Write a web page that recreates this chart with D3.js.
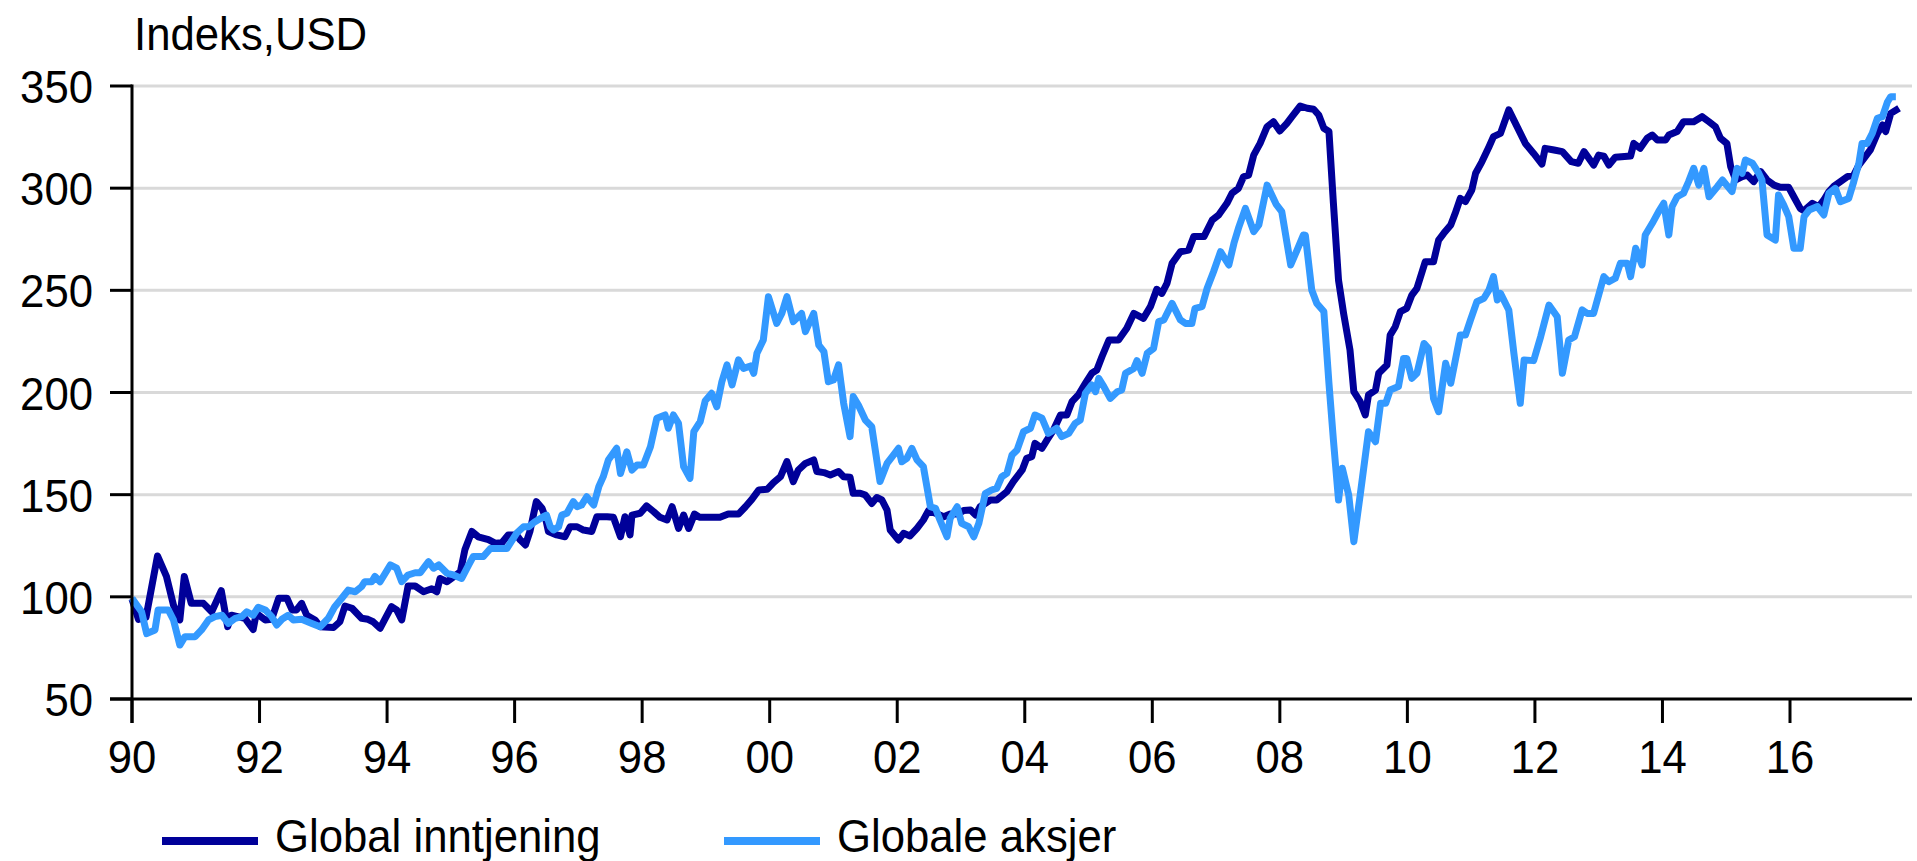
<!DOCTYPE html>
<html>
<head>
<meta charset="utf-8">
<script src="https://cdn.jsdelivr.net/npm/d3@7"></script>
<style>
  html, body { margin: 0; padding: 0; background: #ffffff; }
  svg { display: block; }
  text { font-family: "Liberation Sans", Arial, sans-serif; fill: #000; }
</style>
</head>
<body>
<svg id="chart" width="1917" height="861"></svg>
<script>
// ---------------- DATA ----------------
const yAxisTitle = "Indeks,USD";
const seriesNames = ["Global inntjening", "Globale aksjer"];
const seriesColors = ["#000099", "#3399FF"];

const yTickValues = [50, 100, 150, 200, 250, 300, 350];
const xTickYears = [1990, 1992, 1994, 1996, 1998, 2000, 2002, 2004, 2006, 2008, 2010, 2012, 2014, 2016];
const xTickLabels = ["90", "92", "94", "96", "98", "00", "02", "04", "06", "08", "10", "12", "14", "16"];

// Global inntjening (earnings), time in decimal years
const earningsDates = [
  1990.00,1990.10,1990.22,1990.40,1990.54,1990.65,1990.75,1990.82,1990.93,1991.12,
  1991.25,1991.40,1991.50,1991.56,1991.77,1991.90,1991.95,1992.09,1992.19,1992.30,
  1992.43,1992.51,1992.58,1992.66,1992.74,1992.87,1992.95,1993.16,1993.26,1993.34,
  1993.45,1993.60,1993.70,1993.78,1993.89,1993.96,1994.07,1994.15,1994.23,1994.33,
  1994.44,1994.57,1994.70,1994.78,1994.83,1994.94,1995.01,1995.15,1995.22,1995.33,
  1995.43,1995.59,1995.70,1995.80,1995.90,1996.03,1996.09,1996.17,1996.24,1996.34,
  1996.43,1996.48,1996.53,1996.66,1996.79,1996.87,1996.98,1997.08,1997.21,1997.29,
  1997.45,1997.55,1997.66,1997.73,1997.81,1997.84,1997.97,1998.07,1998.18,1998.28,
  1998.39,1998.47,1998.57,1998.65,1998.73,1998.82,1998.90,1999.01,1999.22,1999.35,
  1999.51,1999.62,1999.72,1999.83,1999.96,2000.06,2000.17,2000.27,2000.37,2000.45,
  2000.56,2000.69,2000.74,2000.85,2000.95,2001.08,2001.16,2001.26,2001.31,2001.42,
  2001.50,2001.60,2001.68,2001.76,2001.84,2001.89,2002.02,2002.10,2002.20,2002.31,
  2002.41,2002.49,2002.60,2002.73,2002.83,2002.94,2003.04,2003.15,2003.23,2003.30,
  2003.46,2003.56,2003.72,2003.82,2003.96,2004.03,2004.11,2004.16,2004.27,2004.35,
  2004.45,2004.56,2004.66,2004.74,2004.84,2004.95,2005.05,2005.13,2005.21,2005.32,
  2005.47,2005.60,2005.71,2005.86,2005.97,2006.07,2006.15,2006.23,2006.31,2006.44,
  2006.57,2006.65,2006.81,2006.94,2007.04,2007.17,2007.25,2007.35,2007.43,2007.51,
  2007.59,2007.69,2007.80,2007.90,2008.00,2008.11,2008.19,2008.32,2008.43,2008.53,
  2008.61,2008.69,2008.77,2008.84,2008.92,2009.00,2009.10,2009.16,2009.26,2009.34,
  2009.39,2009.50,2009.55,2009.68,2009.73,2009.81,2009.89,2009.99,2010.07,2010.15,
  2010.28,2010.41,2010.49,2010.57,2010.68,2010.75,2010.83,2010.91,2011.01,2011.07,
  2011.17,2011.28,2011.35,2011.46,2011.59,2011.72,2011.85,2011.98,2012.11,2012.16,
  2012.30,2012.43,2012.57,2012.68,2012.77,2012.92,2013.00,2013.08,2013.16,2013.26,
  2013.50,2013.55,2013.65,2013.76,2013.84,2013.92,2014.05,2014.10,2014.23,2014.33,
  2014.49,2014.62,2014.73,2014.83,2014.91,2015.01,2015.07,2015.15,2015.25,2015.33,
  2015.43,2015.54,2015.64,2015.75,2015.85,2015.98,2016.06,2016.16,2016.22,2016.35,
  2016.45,2016.53,2016.61,2016.69,2016.79,2016.90,2017.00,2017.08,2017.16,2017.26,
  2017.37,2017.45,2017.50,2017.58,2017.71
];
const earningsValues = [
  99,89,90,120,110,96,88.7,110,96.8,96.8,
  92.7,103,85.4,91,89.5,84,92,88.7,89,99.3,
  99.3,93.6,93.6,96.8,91,88.7,85.4,85,87.8,95.5,
  94.4,89.5,89,87.8,84.6,88.7,95.2,93.6,88.7,105.3,
  105.3,102.5,104,102.5,109,107.4,109,112.3,123,132,
  129.4,128,126.2,126.5,130.3,130.3,127.8,125.4,132,146.6,
  143.3,139.2,132,130.3,129.4,134.3,134.3,132.7,132,139.2,
  139.2,138.9,129.4,139.2,130.3,140,140.9,144.5,141.7,138.9,
  137.6,144.1,133.5,140,133.5,140.5,139,138.9,138.9,140.5,
  140.5,144.1,147.7,152.3,152.6,155.9,158.8,166.2,156.4,162.1,
  165.3,167,161.3,160.8,159.6,161.3,158.8,158.5,150.7,150.7,
  149.8,145.7,148.6,147.4,142.5,132.7,127.8,131.1,129.8,133.5,
  137.6,142.2,140.9,139.2,140.5,140.5,142.2,142.5,140,144.1,
  147.4,147.4,151.5,156.4,162.1,167.8,168.6,175.1,172.7,176.8,
  181.6,189,189,195.5,198.8,204.5,209.4,211,217.5,225.7,
  225.7,231.4,238.7,236.3,242,250.5,248.5,253.4,263.2,268.9,
  269.7,276.3,276.3,284.4,286.9,292.6,297.5,299.9,305.6,306.4,
  316.2,321.9,330.1,332.5,328,331.7,335,340.2,339.1,338.6,
  335.8,329.3,327.7,292.6,255,238.7,220.8,200.4,195.5,189,
  198.8,201.2,209.4,213.5,228.1,232.2,239.6,241.2,247.7,251,
  264,264,274.6,277.9,282,287.7,295,293.4,299.1,307.3,
  313,320.3,325.2,326.8,338.3,330.1,321.9,317,311.8,319.5,
  318.7,317.9,313,312.2,317.9,311.3,316.2,315.7,311.3,315.1,
  315.7,321.9,319.5,324.4,326,323.6,323.6,326,327.7,332.5,
  332.5,335,332.5,330.1,324.4,321.9,310.5,304,305.6,306.4,
  303.2,308.1,304,301.5,300.4,300.4,295.8,290.1,289,292.6,
  291,294.2,298.3,301,303.2,305.6,306.4,311.3,314.6,318.7,
  326.8,330.9,327.7,336.6,339.1
];

// Globale aksjer (equities)
const equityDates = [
  1990.00,1990.15,1990.23,1990.36,1990.41,1990.57,1990.65,1990.75,1990.83,1990.99,
  1991.09,1991.20,1991.30,1991.41,1991.51,1991.62,1991.72,1991.80,1991.90,1991.98,
  1992.09,1992.19,1992.27,1992.35,1992.45,1992.53,1992.66,1992.82,1992.95,1993.08,
  1993.18,1993.29,1993.39,1993.50,1993.60,1993.65,1993.76,1993.81,1993.89,1994.05,
  1994.15,1994.23,1994.33,1994.44,1994.52,1994.65,1994.73,1994.81,1994.94,1995.04,
  1995.17,1995.28,1995.35,1995.51,1995.62,1995.75,1995.88,1995.93,1996.03,1996.14,
  1996.22,1996.32,1996.45,1996.50,1996.56,1996.61,1996.69,1996.74,1996.82,1996.92,
  1996.98,1997.05,1997.13,1997.24,1997.32,1997.39,1997.47,1997.60,1997.66,1997.76,
  1997.84,1997.92,1998.02,1998.13,1998.23,1998.36,1998.41,1998.49,1998.57,1998.65,
  1998.75,1998.81,1998.91,1998.99,1999.09,1999.17,1999.25,1999.33,1999.41,1999.51,
  1999.59,1999.70,1999.75,1999.80,1999.90,1999.98,2000.11,2000.19,2000.27,2000.37,
  2000.50,2000.56,2000.69,2000.77,2000.85,2000.92,2001.00,2001.08,2001.16,2001.26,
  2001.31,2001.39,2001.50,2001.60,2001.73,2001.84,2001.94,2002.02,2002.07,2002.15,
  2002.23,2002.31,2002.41,2002.52,2002.60,2002.67,2002.78,2002.83,2002.94,2003.01,
  2003.12,2003.20,2003.28,2003.38,2003.48,2003.56,2003.64,2003.72,2003.80,2003.88,
  2003.98,2004.09,2004.16,2004.27,2004.37,2004.50,2004.58,2004.69,2004.79,2004.87,
  2004.95,2005.05,2005.11,2005.16,2005.24,2005.34,2005.45,2005.52,2005.58,2005.71,
  2005.76,2005.84,2005.92,2006.02,2006.10,2006.18,2006.31,2006.44,2006.52,2006.62,
  2006.67,2006.78,2006.86,2006.96,2007.07,2007.20,2007.28,2007.35,2007.46,2007.59,
  2007.67,2007.80,2007.94,2008.03,2008.17,2008.27,2008.37,2008.40,2008.50,2008.58,
  2008.69,2008.77,2008.84,2008.92,2008.98,2009.08,2009.16,2009.26,2009.39,2009.50,
  2009.58,2009.66,2009.73,2009.86,2009.94,2009.99,2010.07,2010.15,2010.26,2010.33,
  2010.41,2010.49,2010.60,2010.68,2010.83,2010.91,2010.99,2011.09,2011.20,2011.28,
  2011.35,2011.41,2011.46,2011.59,2011.67,2011.77,2011.83,2011.98,2012.09,2012.22,
  2012.35,2012.43,2012.53,2012.62,2012.74,2012.82,2012.92,2013.08,2013.16,2013.26,
  2013.34,2013.45,2013.50,2013.58,2013.68,2013.73,2013.84,2013.94,2014.02,2014.10,
  2014.15,2014.23,2014.33,2014.41,2014.49,2014.57,2014.65,2014.73,2014.86,2014.94,
  2015.09,2015.17,2015.25,2015.30,2015.41,2015.51,2015.56,2015.64,2015.77,2015.82,
  2015.90,2015.98,2016.06,2016.16,2016.22,2016.30,2016.43,2016.53,2016.61,2016.71,
  2016.79,2016.92,2017.00,2017.08,2017.13,2017.21,2017.29,2017.37,2017.45,2017.53,
  2017.58,2017.66
];
const equityValues = [
  99.3,92.7,82,83.8,93.6,93.6,88.7,76.4,80.5,80.5,
  83.8,88.7,90.3,91,87,89.5,90.3,92.7,91,94.9,
  93.6,90.3,86.2,89,91,88.7,89,87,85.4,89.5,
  95.2,99.3,103.3,102.5,105,107.4,107.4,110,107.4,115.6,
  114,107.4,110.7,111.8,111.8,117.2,114,115.6,111.5,110.7,
  109,115.6,119.7,119.7,123.7,123.7,123.7,126.2,131.1,134.3,
  134.3,136.8,139.2,140,134.3,132.7,134.3,140,140.9,146.6,
  144.1,144.9,149,144.9,153.9,158.8,167,172.7,160.4,171,
  162,164.5,164.5,173.5,187.4,189,182.5,189,184.9,163.7,
  158,180.8,185.7,196,199.6,193,205.3,213.5,203.7,216,
  211.8,213,209.4,219.2,225.7,246.9,233.8,238.7,246.9,234.7,
  238.7,229.8,238.7,223.2,220,205.3,206.1,213.5,194.7,178.4,
  198,193.9,186.5,183.3,156.4,165.3,169.4,172.7,166.1,167.8,
  172.7,167,163.7,144.1,143.3,137.6,129.4,138.4,144.1,136,
  134.3,129.4,136,150.5,152.3,153.1,158.8,160.4,169.4,171.9,
  180.8,182.5,189,187.4,180,182.5,178.4,180,184.9,186.5,
  199.6,203.7,200.4,206.9,202.9,197.1,200.4,201.2,209.4,211.8,
  215.6,209.4,219.2,221.6,234.7,235.5,243.6,235.5,233.8,233.8,
  241.2,242,251,259.1,268.9,262.4,273,280.3,290.1,278.7,
  282,301.5,292.2,288.5,262.4,269.7,277.1,277,250.2,243.6,
  239.6,204.5,176.8,147.4,162.9,149.8,127,149.8,180.8,175.9,
  194.7,194.7,201.2,202.9,216.7,216.7,206.9,209.4,224,221.6,
  197.1,190.6,214.3,204.5,228.1,228.1,235.5,244.5,246.1,250.2,
  256.7,245.3,248.5,240.4,219.2,194.7,215.9,215.6,227.3,242.8,
  237.1,209.4,225.7,227.3,240.4,238.7,238.7,256.7,254.2,255.9,
  263.2,263.2,256.7,270.6,262.4,277.1,282.8,288.5,292.6,277.1,
  290.9,295.8,297.5,303.2,309.7,301.5,309.7,295.8,300.7,304,
  298.3,309.7,307.3,313.8,312.2,307.3,304,277.1,274.6,296.6,
  291.8,286.1,270.6,270.6,286.1,289.3,291,286.9,297.5,299.9,
  293.4,295,303.2,312.2,321.9,321.9,326.8,334.2,335,342.3,
  344.8,344.8
];

// ---------------- CHART ----------------
const svg = d3.select("#chart");
const FONT = 47;
const SQUEEZE = 0.93;   // glyphs in the original are slightly condensed

const x = d3.scaleLinear().domain([1990, 2016]).range([132, 1790]);
const y = d3.scaleLinear().domain([50, 350]).range([699, 86]);
const rightEdge = 1912;

function placeText(sel, px, py) {
  sel.attr("transform", (d, i) => {
    const tx = typeof px === "function" ? px(d, i) : px;
    const ty = typeof py === "function" ? py(d, i) : py;
    return `translate(${tx},${ty}) scale(${SQUEEZE},1)`;
  }).attr("font-size", FONT);
}

// gridlines
svg.append("g").selectAll("line")
  .data(yTickValues.filter(v => v !== 50))
  .join("line")
  .attr("x1", x(1990)).attr("x2", rightEdge)
  .attr("y1", d => y(d)).attr("y2", d => y(d))
  .attr("stroke", "#d9d9d9").attr("stroke-width", 3);

// series lines
const earnings = earningsDates.map((t, i) => ({ t, v: earningsValues[i] }));
const equity = equityDates.map((t, i) => ({ t, v: equityValues[i] }));
const line = d3.line().x(d => x(d.t)).y(d => y(d.v));

[earnings, equity].forEach((s, i) => {
  svg.append("path")
    .datum(s)
    .attr("d", line)
    .attr("fill", "none")
    .attr("stroke", seriesColors[i])
    .attr("stroke-width", 7)
    .attr("stroke-linejoin", "round")
    .attr("stroke-linecap", "butt");
});

// axes
const axisG = svg.append("g");
axisG.append("line")
  .attr("x1", 110).attr("x2", rightEdge)
  .attr("y1", y(50)).attr("y2", y(50))
  .attr("stroke", "#000").attr("stroke-width", 3);
axisG.append("line")
  .attr("x1", x(1990)).attr("x2", x(1990))
  .attr("y1", y(350) - 1.5).attr("y2", y(50) + 24)
  .attr("stroke", "#000").attr("stroke-width", 3);

// y ticks + labels
axisG.selectAll(".ytick")
  .data(yTickValues)
  .join("line")
  .attr("x1", 110).attr("x2", x(1990))
  .attr("y1", d => y(d)).attr("y2", d => y(d))
  .attr("stroke", "#000").attr("stroke-width", 3);
axisG.selectAll(".ylab")
  .data(yTickValues)
  .join("text")
  .attr("text-anchor", "end")
  .call(placeText, 93, d => y(d) + 17)
  .text(d => d);

// x ticks + labels
axisG.selectAll(".xtick")
  .data(xTickYears)
  .join("line")
  .attr("x1", d => x(d)).attr("x2", d => x(d))
  .attr("y1", y(50)).attr("y2", y(50) + 24)
  .attr("stroke", "#000").attr("stroke-width", 3);
axisG.selectAll(".xlab")
  .data(xTickYears)
  .join("text")
  .attr("text-anchor", "middle")
  .call(placeText, d => x(d), 773)
  .text((d, i) => xTickLabels[i]);

// y axis title
svg.append("text")
  .call(placeText, 134, 50)
  .text(yAxisTitle);

// legend
const legendX = [162, 724];
seriesNames.forEach((name, i) => {
  svg.append("line")
    .attr("x1", legendX[i]).attr("x2", legendX[i] + 96)
    .attr("y1", 841).attr("y2", 841)
    .attr("stroke", seriesColors[i]).attr("stroke-width", 8);
  svg.append("text")
    .call(placeText, legendX[i] + 113, 852)
    .text(name);
});
</script>
</body>
</html>
